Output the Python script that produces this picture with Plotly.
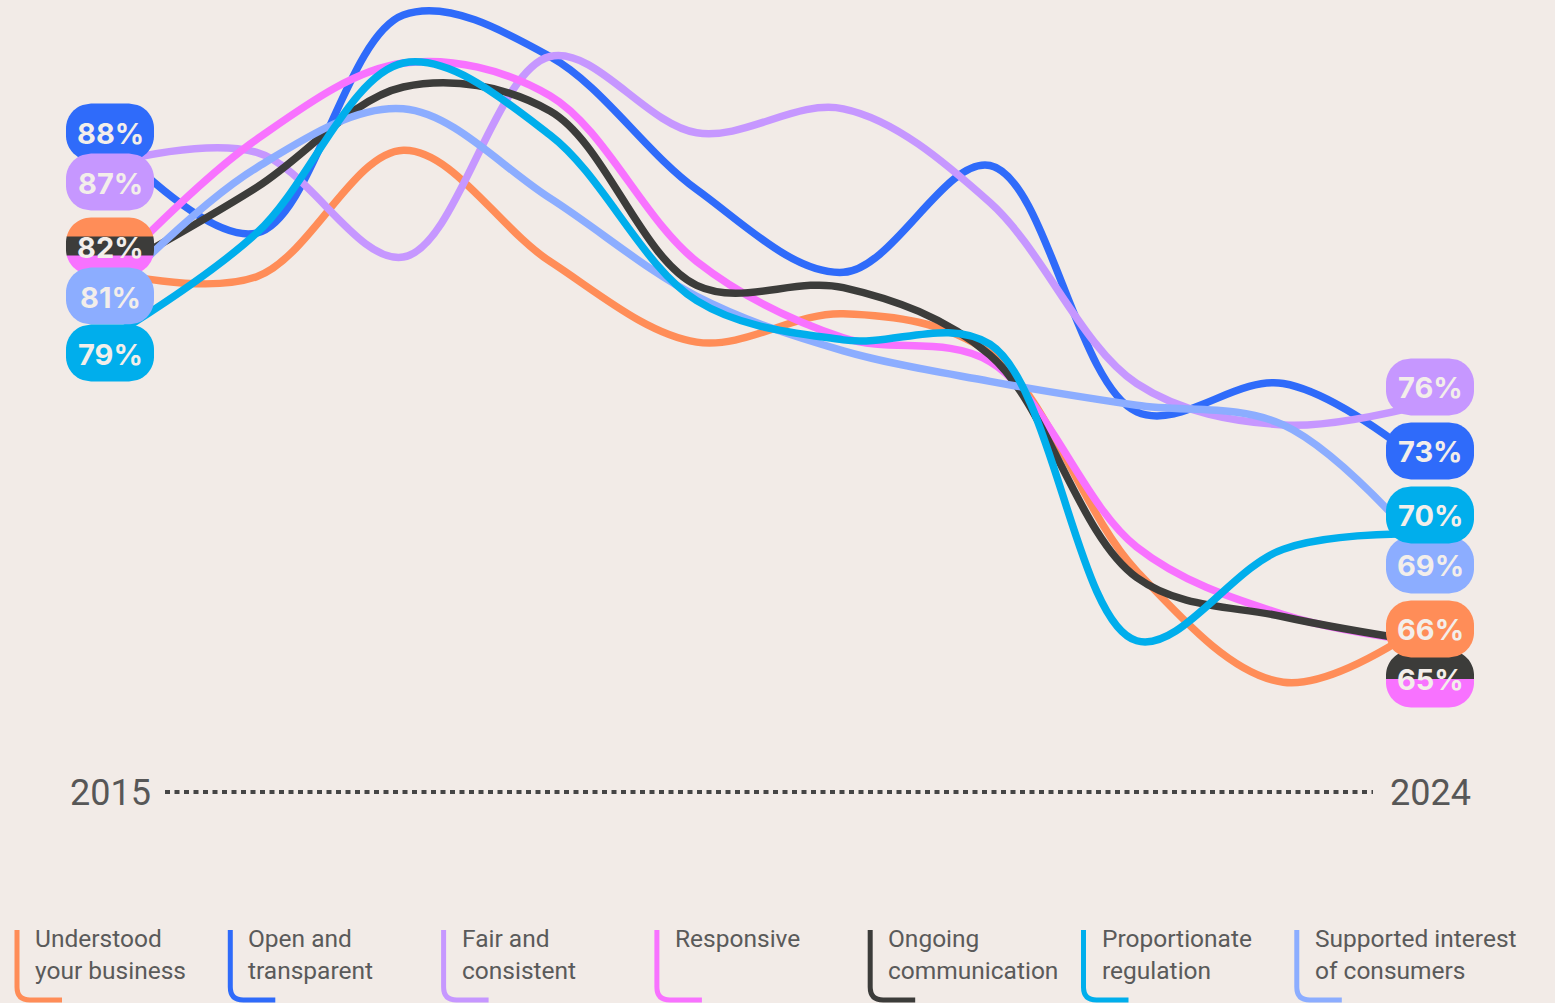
import math
import plotly.graph_objects as go

# ---------------- data ----------------
years = list(range(2015, 2025))
series_names = [
    "Understood<br>your business",
    "Open and<br>transparent",
    "Fair and<br>consistent",
    "Responsive",
    "Ongoing<br>communication",
    "Proportionate<br>regulation",
    "Supported interest<br>of consumers",
]
understood = [82, 81.8, 87.6, 82.5, 78.8, 80.1, 78.3, 68.3, 63.2, 66]
open_transparent = [88, 83.8, 93.8, 91.9, 85.8, 82.0, 86.9, 75.6, 76.9, 73]
fair_consistent = [87, 87.5, 82.7, 91.9, 88.4, 89.5, 85.2, 76.9, 75.0, 76]
responsive = [82, 88.1, 91.6, 90.1, 82.5, 79.0, 77.9, 69.4, 66.3, 65]
ongoing = [82, 85.9, 90.5, 89.4, 81.4, 81.3, 78.2, 68.0, 66.2, 65]
proportionate = [79, 83.8, 91.6, 88.3, 80.7, 78.9, 78.7, 65.1, 69.3, 70]
supported = [81, 86.8, 89.5, 85.4, 80.9, 78.4, 77.0, 75.9, 75.0, 69]

series_values = [understood, open_transparent, fair_consistent, responsive,
                 ongoing, proportionate, supported]
colors = ["#FF8D58", "#2F6BFA", "#C697FF", "#F872FF", "#3C3C3A", "#00AEEC", "#8CADFF"]
draw_order = [0, 1, 2, 3, 4, 6, 5]

# ---------------- layout constants ----------------
W, H = 1555, 1003
BG = "#F2EBE7"
X_START_PX, X_END_PX = 110, 1430
PX_PER_YEAR = (X_END_PX - X_START_PX) / (years[-1] - years[0])
PX_PER_PT = 21.8
REF_V, REF_PX = 83.4, 241.8

x_range = [years[0] - X_START_PX / PX_PER_YEAR, years[0] + (W - X_START_PX) / PX_PER_YEAR]
y_range = [REF_V - (H - REF_PX) / PX_PER_PT, REF_V + REF_PX / PX_PER_PT]


def px_x(year):
    return X_START_PX + (year - years[0]) * PX_PER_YEAR


def px_y(v):
    return REF_PX + (REF_V - v) * PX_PER_PT


def pap(x, y):
    return x / W, 1 - y / H


fig = go.Figure()
for i in draw_order:
    fig.add_trace(go.Scatter(
        x=years, y=series_values[i], mode="lines",
        line=dict(color=colors[i], width=7.5, shape="spline", smoothing=1.0),
        hoverinfo="skip", showlegend=False,
    ))

shapes = []
annotations = []

# ---------------- end labels (pills) ----------------
PILL_W, PILL_H, PILL_R = 88, 57, 25


def pill_band_path(cx, cy, y0, y1):
    """polygon of the rounded pill centred at (cx, cy) restricted to the band y0..y1 (px)"""
    T, B = cy - PILL_H / 2, cy + PILL_H / 2
    y0, y1 = max(y0, T), min(y1, B)
    n = 40
    left, right = [], []
    for k in range(n + 1):
        y = y0 + (y1 - y0) * k / n
        hw = PILL_W / 2 - PILL_R
        if y < T + PILL_R:
            dy = T + PILL_R - y
            hw += math.sqrt(max(PILL_R ** 2 - dy ** 2, 0))
        elif y > B - PILL_R:
            dy = y - (B - PILL_R)
            hw += math.sqrt(max(PILL_R ** 2 - dy ** 2, 0))
        else:
            hw += PILL_R
        left.append((cx - hw, y))
        right.append((cx + hw, y))
    pts = left + right[::-1]
    s = ""
    for j, (x, y) in enumerate(pts):
        px, py = pap(x, y)
        s += ("M" if j == 0 else "L") + f"{px:.5f},{py:.5f} "
    return s + "Z"


def gap_for(diff):
    return min(64, 43 + 7 * diff)


# band order (top to bottom) for labels shared by several series
band_rank = {0: 0, 4: 1, 3: 2, 1: 3, 2: 4, 5: 5, 6: 6}


def side_labels(idx, ascending_draw):
    groups = {}
    for i, vals in enumerate(series_values):
        groups.setdefault(vals[idx], []).append(i)
    vals_sorted = sorted(groups.keys(), reverse=True)
    offs = [0.0]
    for a, b in zip(vals_sorted[:-1], vals_sorted[1:]):
        offs.append(offs[-1] + gap_for(a - b))
    ideal = [px_y(v) for v in vals_sorted]
    shift = sum(ideal) / len(ideal) - sum(offs) / len(offs)
    centers = [o + shift for o in offs]
    order = list(range(len(vals_sorted)))
    if ascending_draw:
        order = order[::-1]
    cx = px_x(years[idx])
    for k in order:
        v = vals_sorted[k]
        cy = centers[k]
        members = sorted(groups[v], key=lambda m: band_rank[m])
        nb = len(members)
        top = cy - PILL_H / 2
        for b, m in enumerate(members):
            shapes.append(dict(
                type="path", xref="paper", yref="paper", layer="above",
                path=pill_band_path(cx, cy, top + PILL_H * b / nb,
                                    top + PILL_H * (b + 1) / nb + (0.6 if b < nb - 1 else 0)),
                fillcolor=colors[m], line=dict(width=0),
            ))
        annotations.append(dict(
            x=years[idx], y=pap(0, cy + 1)[1], xref="x", yref="paper",
            text=f"<b>{v:g}%</b>", showarrow=False, xanchor="center", yanchor="middle",
            font=dict(family="Inter, Open Sans, sans-serif", size=29, color="#F3EEEA"),
        ))


side_labels(0, ascending_draw=False)
side_labels(len(years) - 1, ascending_draw=True)

# ---------------- time axis ----------------
AXIS_PX = 792
x0p, _ = pap(px_x(years[0]) + 55, 0)
x1p, _ = pap(px_x(years[-1]) - 57, 0)
ap = pap(0, AXIS_PX)[1]
shapes.append(dict(type="line", xref="paper", yref="paper", x0=x0p, x1=x1p, y0=ap, y1=ap,
                   line=dict(color="#454545", width=4, dash="5px,4.5px"), layer="below"))
for yr in (years[0], years[-1]):
    annotations.append(dict(
        x=yr, y=pap(0, AXIS_PX + 1)[1], xref="x", yref="paper", text=str(yr),
        showarrow=False, xanchor="center", yanchor="middle",
        font=dict(family="Roboto, sans-serif", size=36, color="#575757"),
    ))

# ---------------- legend ----------------
LEG_X0, LEG_STEP = 17, 213.3
LEG_TOP, LEG_BOT, LEG_R, LEG_LEN = 930, 1000, 13, 45
for i, name in enumerate(series_names):
    lx = LEG_X0 + i * LEG_STEP
    p = []
    for (x, y, cmd) in [(lx, LEG_TOP, "M"), (lx, LEG_BOT - LEG_R, "L")]:
        px, py = pap(x, y)
        p.append(f"{cmd}{px:.5f},{py:.5f}")
    cx_, cy_ = pap(lx, LEG_BOT)
    ex, ey = pap(lx + LEG_R, LEG_BOT)
    p.append(f"Q{cx_:.5f},{cy_:.5f} {ex:.5f},{ey:.5f}")
    fx, fy = pap(lx + LEG_LEN, LEG_BOT)
    p.append(f"L{fx:.5f},{fy:.5f}")
    shapes.append(dict(type="path", xref="paper", yref="paper", path=" ".join(p),
                       line=dict(color=colors[i], width=5), layer="above"))
    tx, ty = pap(lx + 16, 922)
    annotations.append(dict(
        x=tx, y=ty, xref="paper", yref="paper", text=name, showarrow=False,
        xanchor="left", yanchor="top", align="left",
        font=dict(family="Roboto, sans-serif", size=24.5, color="#5A5A5A"),
    ))

fig.update_layout(
    width=W, height=H,
    margin=dict(l=0, r=0, t=0, b=0),
    paper_bgcolor=BG, plot_bgcolor=BG,
    xaxis=dict(range=x_range, visible=False, fixedrange=True),
    yaxis=dict(range=y_range, visible=False, fixedrange=True),
    shapes=shapes, annotations=annotations, showlegend=False,
)

fig.write_html("out.html", config={"displayModeBar": False})
